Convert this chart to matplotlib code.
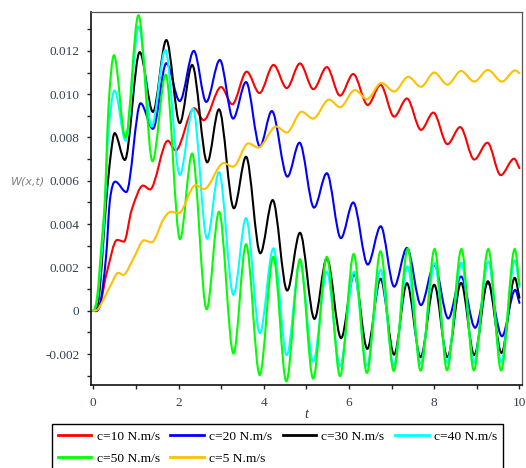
import numpy as np
import matplotlib
matplotlib.use("Agg")
import matplotlib.pyplot as plt
from matplotlib.path import Path
from matplotlib.patches import PathPatch
from matplotlib.lines import Line2D
from matplotlib.ticker import MultipleLocator, FuncFormatter

plt.rcParams['axes.unicode_minus'] = False

# ---- deflection W(x,t) for each damping coefficient: turning points (t, W) ----
t_c10 = [0, 0.16, 0.31, 0.56, 0.72, 0.90, 1.17, 1.33, 1.75, 1.93, 2.37, 2.59, 3.0, 3.26,
         3.60, 3.90, 4.23, 4.54, 4.85, 5.165, 5.48, 5.79, 6.10, 6.44, 6.74, 7.06, 7.36,
         7.69, 7.98, 8.31, 8.61, 8.94, 9.25, 9.56, 9.875, 10.0]
w_c10 = [0, 0.0003, 0.0017, 0.00327, 0.00319, 0.00465, 0.00578, 0.0056, 0.00785, 0.0074,
         0.00935, 0.0088, 0.01033, 0.00953, 0.01104, 0.01005, 0.01135, 0.01028, 0.01142,
         0.01023, 0.01125, 0.00993, 0.01093, 0.0095, 0.01043, 0.00896, 0.0098, 0.00835,
         0.00915, 0.00769, 0.00848, 0.00698, 0.00776, 0.00626, 0.00702, 0.00658]

t_c20 = [0, 0.16, 0.30, 0.39, 0.515, 0.775, 1.11, 1.40, 1.715, 2.03, 2.36, 2.65, 2.97,
         3.28, 3.585, 3.91, 4.19, 4.555, 4.84, 5.18, 5.48, 5.81, 6.10, 6.44, 6.745, 7.06,
         7.36, 7.69, 8.0, 8.33, 8.63, 8.96, 9.26, 9.59, 9.9, 10.0]
w_c20 = [0, 0.0003, 0.0025, 0.0051, 0.00596, 0.00548, 0.00958, 0.0084, 0.01143, 0.00968,
         0.012, 0.00964, 0.01158, 0.00887, 0.01056, 0.00758, 0.00922, 0.00619, 0.00776,
         0.00476, 0.00635, 0.00335, 0.005, 0.00213, 0.0039, 0.00111, 0.0029, 0.00026,
         0.00211, -0.00036, 0.00158, -0.00079, 0.0013, -0.00118, 0.00096, 0.00036]

t_c30 = [0, 0.135, 0.305, 0.41, 0.50, 0.74, 1.09, 1.40, 1.715, 2.03, 2.32, 2.675, 2.95,
         3.30, 3.585, 3.92, 4.21, 4.55, 4.85, 5.19, 5.48, 5.815, 6.12, 6.43, 6.74, 7.06,
         7.36, 7.68, 8.0, 8.31, 8.63, 8.94, 9.26, 9.58, 9.89, 10.0]
w_c30 = [0, 0.0007, 0.0051, 0.0072, 0.0082, 0.00696, 0.01194, 0.00918, 0.0125, 0.00866,
         0.01135, 0.00685, 0.0093, 0.00473, 0.00711, 0.00265, 0.00511, 0.00093, 0.0036,
         -0.00038, 0.00242, -0.00127, 0.0017, -0.00176, 0.00148, -0.00203, 0.00127,
         -0.00215, 0.0012, -0.00215, 0.00129, -0.00205, 0.00136, -0.00195, 0.00152, 0.0006]

t_c40 = [0, 0.10, 0.20, 0.28, 0.345, 0.50, 0.76, 1.066, 1.37, 1.69, 2.03, 2.34, 2.67, 2.95,
         3.29, 3.585, 3.91, 4.225, 4.54, 4.85, 5.16, 5.48, 5.79, 6.12, 6.42, 6.74, 7.05,
         7.37, 7.68, 8.01, 8.30, 8.64, 8.93, 9.27, 9.57, 9.89, 10.0]
w_c40 = [0, 0.0006, 0.0027, 0.0050, 0.0080, 0.01017, 0.00785, 0.01312, 0.0085, 0.01204,
         0.00627, 0.00933, 0.00332, 0.0064, 0.00073, 0.00428, -0.00104, 0.00288, -0.00205,
         0.00226, -0.00235, 0.0018, -0.00256, 0.0018, -0.00254, 0.0019, -0.00252, 0.00205,
         -0.00245, 0.0022, -0.0024, 0.00222, -0.0024, 0.00228, -0.00238, 0.00232, 0.0011]

t_c50 = [0, 0.094, 0.19, 0.27, 0.36, 0.485, 0.755, 1.06, 1.39, 1.70, 2.035, 2.32, 2.66,
         2.95, 3.29, 3.585, 3.905, 4.225, 4.53, 4.85, 5.16, 5.48, 5.79, 6.11, 6.42, 6.74,
         7.05, 7.38, 7.68, 8.01, 8.30, 8.64, 8.93, 9.27, 9.57, 9.89, 10.0]
w_c50 = [0, 0.0007, 0.0030, 0.0051, 0.0095, 0.0118, 0.0080, 0.01365, 0.0069, 0.0109,
         0.0033, 0.00726, 0.00006, 0.00457, -0.00198, 0.00307, -0.00297, 0.00249, -0.00326,
         0.00238, -0.00314, 0.00249, -0.00302, 0.00262, -0.00287, 0.00275, -0.00278,
         0.00287, -0.00277, 0.00285, -0.00275, 0.00285, -0.00276, 0.00285, -0.00276,
         0.00285, 0.0012]

t_c5 = [0, 0.12, 0.39, 0.59, 0.70, 0.94, 1.19, 1.37, 1.64, 1.82, 2.0, 2.40, 2.60, 3.06,
        3.28, 3.64, 3.87, 4.29, 4.54, 4.89, 5.16, 5.53, 5.79, 6.14, 6.42, 6.76, 7.06, 7.39,
        7.69, 8.0, 8.31, 8.63, 8.94, 9.26, 9.59, 9.9, 10.0]
w_c5 = [0, 0.0001, 0.0011, 0.00175, 0.00165, 0.0024, 0.00325, 0.00316, 0.0042, 0.00457,
        0.0045, 0.0058, 0.00562, 0.00682, 0.00665, 0.00773, 0.00753, 0.0085, 0.00823,
        0.00919, 0.00887, 0.00975, 0.0094, 0.01019, 0.00977, 0.01052, 0.01012, 0.0108,
        0.01034, 0.011, 0.01044, 0.01107, 0.01058, 0.01112, 0.01058, 0.0111, 0.01097]

series = [
    ('c=10 N.m/s', t_c10, w_c10, '#ff0000'),
    ('c=20 N.m/s', t_c20, w_c20, '#0000ff'),
    ('c=30 N.m/s', t_c30, w_c30, '#000000'),
    ('c=40 N.m/s', t_c40, w_c40, '#00ffff'),
    ('c=50 N.m/s', t_c50, w_c50, '#00ff00'),
    ('c=5 N.m/s', t_c5, w_c5, '#ffc000'),
]


def smooth_path(t, w):
    """Cubic Hermite curve through the points, flat at the turning points."""
    t = np.asarray(t, float)
    w = np.asarray(w, float)
    n = len(t)
    m = np.zeros(n)
    for i in range(1, n - 1):
        if (w[i] - w[i - 1]) * (w[i + 1] - w[i]) > 0:
            m[i] = (w[i + 1] - w[i - 1]) / (t[i + 1] - t[i - 1])
    m[-1] = (w[-1] - w[-2]) / (t[-1] - t[-2])
    verts = [(t[0], w[0])]
    codes = [Path.MOVETO]
    for i in range(n - 1):
        h = (t[i + 1] - t[i]) / 3
        verts += [(t[i] + h, w[i] + m[i] * h),
                  (t[i + 1] - h, w[i + 1] - m[i + 1] * h),
                  (t[i + 1], w[i + 1])]
        codes += [Path.CURVE4] * 3
    return Path(verts, codes)


fig = plt.figure(figsize=(5.26, 4.68), dpi=100)
ax = fig.add_axes([0.1724, 0.1774, 0.820, 0.7977])

handles = {}
for label, t, w, color in series:
    ax.add_patch(PathPatch(smooth_path(t, w), fill=False, edgecolor=color,
                           linewidth=1.5, joinstyle='round', capstyle='round'))
    handles[label] = Line2D([], [], color=color, linewidth=2)

ax.set_xlim(-0.061, 10.06)
ax.set_ylim(-0.00343, 0.01381)

# axes look: dark left/bottom, thin grey frame top/right, outward ticks
for side in ['left', 'bottom']:
    ax.spines[side].set_color('#111111')
    ax.spines[side].set_linewidth(1.2)
for side in ['top', 'right']:
    ax.spines[side].set_color('#555555')
    ax.spines[side].set_linewidth(0.9)

ax.xaxis.set_major_locator(MultipleLocator(2))
ax.xaxis.set_minor_locator(MultipleLocator(1))
ax.yaxis.set_major_locator(MultipleLocator(0.002))
ax.yaxis.set_minor_locator(MultipleLocator(0.001))
ax.yaxis.set_major_formatter(FuncFormatter(lambda v, p: '0' if abs(v) < 1e-9 else f'{v:.3f}'))
ax.xaxis.set_major_formatter(FuncFormatter(lambda v, p: f'{v:.0f}'))

tick_color = '#34404f'
ax.tick_params(which='both', direction='out', length=3, width=1, color='#222222',
               top=False, right=False)
ax.tick_params(axis='y', which='major', pad=5)
ax.tick_params(axis='x', which='major', pad=6)
for lab in ax.get_xticklabels() + ax.get_yticklabels():
    lab.set_fontfamily('Liberation Serif')
    lab.set_fontsize(9.5)
    lab.set_color(tick_color)

ax.set_xlabel('t', fontfamily='Liberation Serif', fontstyle='italic', fontsize=10,
              color='#333333', labelpad=-1)
fig.text(0.021, 0.613, 'W(x,t)', fontfamily='DejaVu Sans', fontstyle='italic',
         fontsize=8, color='#808080', ha='left', va='center')

# legend filled column by column, so order it to read row by row
order = ['c=10 N.m/s', 'c=50 N.m/s', 'c=20 N.m/s', 'c=5 N.m/s', 'c=30 N.m/s', 'c=40 N.m/s']
leg = fig.legend([handles[k] for k in order], order, ncol=4,
                 loc='upper left', bbox_to_anchor=(0.0983, 0.0934),
                 prop={'family': 'Liberation Serif', 'size': 9.7},
                 frameon=True, fancybox=False, edgecolor='black', framealpha=1,
                 handlelength=2.5, handletextpad=0.38, columnspacing=0.78,
                 labelspacing=0.72, borderpad=0.45, borderaxespad=0)
leg.get_frame().set_linewidth(1.0)

fig.savefig('out.png', dpi=100)
